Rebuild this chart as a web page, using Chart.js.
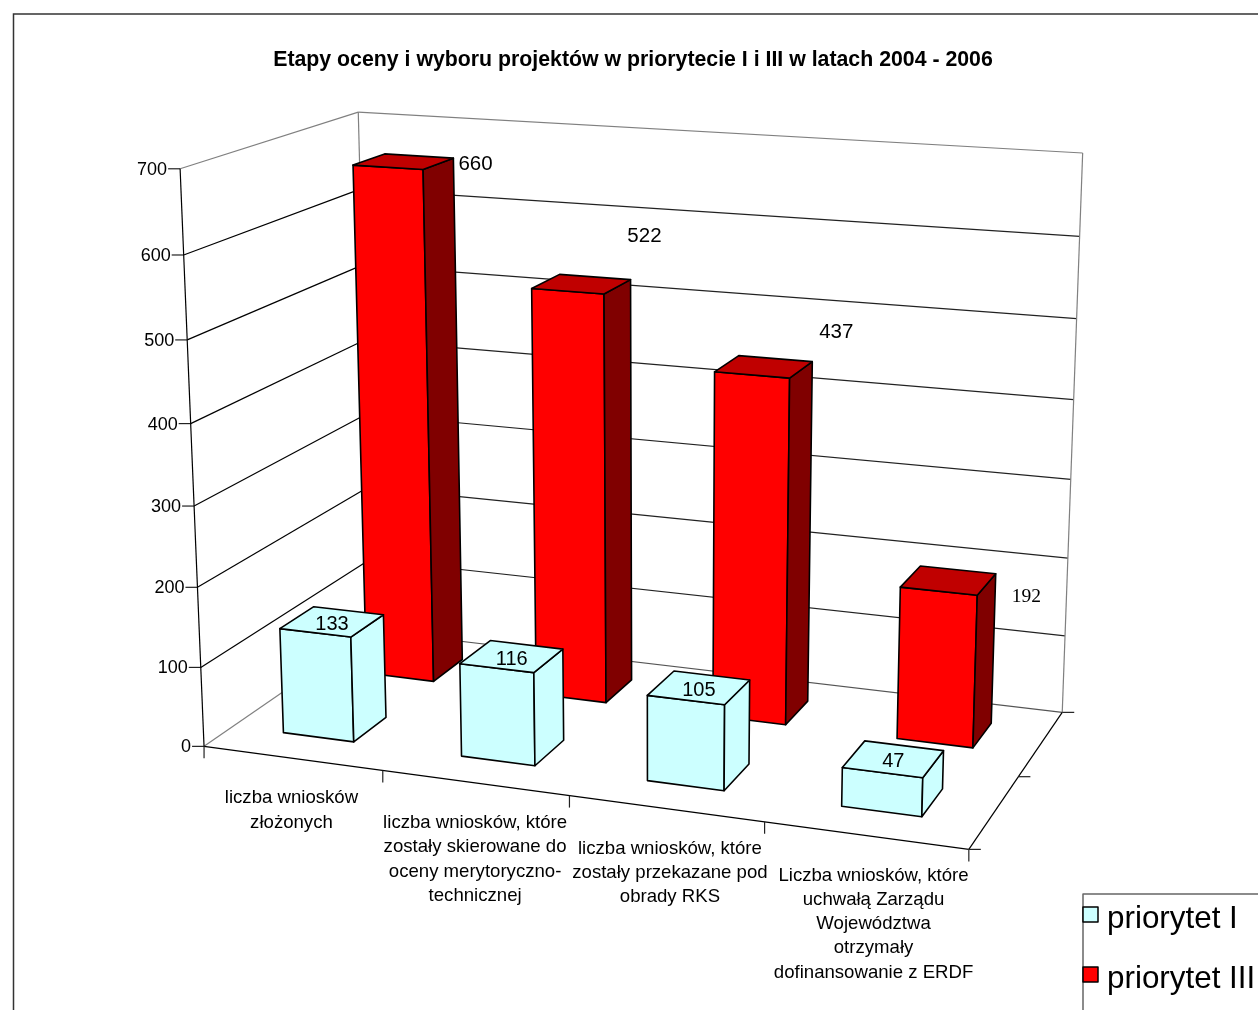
<!DOCTYPE html>
<html lang="pl">
<head>
<meta charset="utf-8">
<title>Etapy oceny i wyboru projektów</title>
<script src="https://cdn.jsdelivr.net/npm/chart.js@4/dist/chart.umd.min.js"></script>
<style>
    html, body { margin: 0; padding: 0; background: #fff; overflow: hidden; }
    canvas { display: block; }
</style>
</head>
<body>
<canvas id="chart" width="1258" height="1010"></canvas>
<script>
// dane
const chartTitle = 'Etapy oceny i wyboru projektów w priorytecie I i III w latach 2004 - 2006';
const categories = [
    ['liczba wniosków', 'złożonych'],
    ['liczba wniosków, które', 'zostały skierowane do', 'oceny merytoryczno-', 'technicznej'],
    ['liczba wniosków, które', 'zostały przekazane pod', 'obrady RKS'],
    ['Liczba wniosków, które', 'uchwałą Zarządu', 'Województwa', 'otrzymały', 'dofinansowanie z ERDF']
];
const seriesNames = ['priorytet I', 'priorytet III'];
const priorytetI = [133, 116, 105, 47];
const priorytetIII = [660, 522, 437, 192];

// style
const FONT = '"Liberation Sans", Arial, sans-serif';
const FRONT_COLORS = ['#CCFFFF', '#FF0000'];
const TOP_COLORS = ['#CCFFFF', '#C00000'];
const SIDE_COLORS = ['#CCFFFF', '#800000'];
const DEPTH_BANDS = [[0.16, 0.355], [0.66, 0.855]];   // zakres glebokosci serii
const BAR_SHIFT = -0.003;
const RED_LABEL_SHIFT = [[72, 3], [63, -48], [72.5, -34], [78, 16]];
const CATEGORY_LABEL_SHIFT = [-1, 0, 4, 8];

// kalibracja kamery: narozniki pudelka wykresu (x, wartosc, glebokosc) -> piksele
const CAMERA_POINTS = [
    [0, 0, 0, 203, 746], [1, 0, 0, 969, 849], [1, 0, 1, 1062, 712], [0, 0, 1, 373, 631],
    [0, 1, 0, 181, 169], [0, 1, 1, 357, 112], [1, 1, 1, 1083, 153],
    [0.25, 0, 0, 383, 771], [0.5, 0, 0, 569, 796], [0.75, 0, 0, 765, 822],
    [1, 0, 0.5, 1018, 777], [0, 6 / 7, 0, 184, 255], [0, 2 / 7, 0, 197, 587], [0, 1 / 7, 0, 201, 667]
];

function solveCamera(points) {
    const n = 11;
    const A = Array.from({ length: n }, () => new Array(n + 1).fill(0));
    const addRow = (row, rhs) => {
        for (let i = 0; i < n; i++) {
            for (let j = 0; j < n; j++) A[i][j] += row[i] * row[j];
            A[i][n] += row[i] * rhs;
        }
    };
    points.forEach(([X, Y, Z, u, v]) => {
        addRow([X, Y, Z, 1, 0, 0, 0, 0, -u * X, -u * Y, -u * Z], u);
        addRow([0, 0, 0, 0, X, Y, Z, 1, -v * X, -v * Y, -v * Z], v);
    });
    for (let c = 0; c < n; c++) {
        let pivot = c;
        for (let r = c + 1; r < n; r++) if (Math.abs(A[r][c]) > Math.abs(A[pivot][c])) pivot = r;
        [A[c], A[pivot]] = [A[pivot], A[c]];
        for (let r = 0; r < n; r++) {
            if (r === c) continue;
            const f = A[r][c] / A[c][c];
            for (let k = c; k <= n; k++) A[r][k] -= f * A[c][k];
        }
    }
    return A.map((row, i) => row[n] / row[i]);
}

const cam = solveCamera(CAMERA_POINTS);
function project(x, y, z) {
    const w = cam[8] * x + cam[9] * y + cam[10] * z + 1;
    return [
        (cam[0] * x + cam[1] * y + cam[2] * z + cam[3]) / w,
        (cam[4] * x + cam[5] * y + cam[6] * z + cam[7]) / w
    ];
}

function line(ctx, a, b, color, width) {
    ctx.strokeStyle = color;
    ctx.lineWidth = width || 1.2;
    ctx.beginPath();
    ctx.moveTo(a[0], a[1]);
    ctx.lineTo(b[0], b[1]);
    ctx.stroke();
}

function face(ctx, pts, fill) {
    ctx.fillStyle = fill;
    ctx.strokeStyle = '#000';
    ctx.lineWidth = 1.6;
    ctx.lineJoin = 'round';
    ctx.beginPath();
    pts.forEach((p, i) => (i ? ctx.lineTo(p[0], p[1]) : ctx.moveTo(p[0], p[1])));
    ctx.closePath();
    ctx.fill();
    ctx.stroke();
}

function text(ctx, str, x, y, font, align) {
    ctx.font = font;
    ctx.fillStyle = '#000';
    ctx.textAlign = align || 'center';
    ctx.textBaseline = 'middle';
    ctx.fillText(str, x, y);
}

// rysuje pudelko, slupki i opisy; pozycje slupkow biora sie ze skal Chart.js
const box3d = {
    id: 'box3d',
    beforeDatasetsDraw(chart) {
        const { ctx, scales: { x: xs, y: ys } } = chart;
        const ux = px => (px - xs.left) / (xs.right - xs.left);
        const uy = px => (ys.bottom - px) / (ys.bottom - ys.top);

        ctx.save();
        // ramka wykresu
        ctx.strokeStyle = '#333';
        ctx.lineWidth = 1.5;
        ctx.strokeRect(13.5, 14, 1400, 1200);

        // sciany
        const gray = '#808080';
        ys.ticks.forEach(t => {
            const v = uy(ys.getPixelForValue(t.value));
            const edge = project(0, v, 0);
            const color = t.value === 0 || t.value === ys.max ? gray : '#000';
            line(ctx, edge, project(0, v, 1), color);
            line(ctx, project(0, v, 1), project(1, v, 1), t.value === ys.max ? gray : t.value === 0 ? '#555' : '#222');
            line(ctx, [edge[0] - 12, edge[1]], edge, '#222');
            text(ctx, String(t.value), edge[0] - 13, edge[1] + 1, '18px ' + FONT, 'right');
        });
        line(ctx, project(0, 0, 1), project(0, 1, 1), gray);
        line(ctx, project(1, 0, 1), project(1, 1, 1), gray);
        line(ctx, project(0, 0, 0), project(0, 1, 0), '#000');

        // podloga i znaczniki
        line(ctx, project(0, 0, 0), project(1, 0, 0), '#000');
        line(ctx, project(1, 0, 0), project(1, 0, 1), '#000');
        for (let i = 0; i <= categories.length; i++) {
            const p = project(i / categories.length, 0, 0);
            line(ctx, p, [p[0], p[1] + 12], '#222');
        }
        [0, 0.5, 1].forEach(z => {
            const p = project(1, 0, z);
            line(ctx, p, [p[0] + 12, p[1]], '#222');
        });

        // slupki: najpierw tylna seria
        const labels = [];
        [1, 0].forEach(ds => {
            const [z0, z1] = DEPTH_BANDS[ds];
            chart.getDatasetMeta(ds).data.forEach((bar, i) => {
                const x0 = ux(bar.x - bar.width / 2) + BAR_SHIFT;
                const x1 = ux(bar.x + bar.width / 2) + BAR_SHIFT;
                const top = uy(bar.y);
                const base = uy(bar.base);
                face(ctx, [project(x0, base, z0), project(x1, base, z0), project(x1, top, z0), project(x0, top, z0)], FRONT_COLORS[ds]);
                face(ctx, [project(x1, base, z0), project(x1, base, z1), project(x1, top, z1), project(x1, top, z0)], SIDE_COLORS[ds]);
                face(ctx, [project(x0, top, z0), project(x1, top, z0), project(x1, top, z1), project(x0, top, z1)], TOP_COLORS[ds]);
                const c = project((x0 + x1) / 2, top, (z0 + z1) / 2);
                const value = chart.data.datasets[ds].data[i];
                if (ds === 0) {
                    labels.push([value, c[0], c[1] + 3, '20px ' + FONT]);
                } else {
                    const [dx, dy] = RED_LABEL_SHIFT[i];
                    labels.push([value, c[0] + dx, c[1] + dy, (i === 3 ? '19.5px "Liberation Serif", serif' : '20.5px ' + FONT)]);
                }
            });
        });
        labels.forEach(([v, x, y, font]) => text(ctx, String(v), x, y, font));

        // opisy kategorii
        categories.forEach((lines, i) => {
            const p = project((i + 0.5) / categories.length, 0, 0);
            lines.forEach((l, k) => {
                text(ctx, l, p[0] + CATEGORY_LABEL_SHIFT[i], p[1] + 40 + k * 24.3, '18.6px ' + FONT);
            });
        });

        // legenda
        ctx.strokeStyle = '#666';
        ctx.lineWidth = 1.5;
        ctx.strokeRect(1083, 894, 400, 400);
        chart.data.datasets.forEach((d, i) => {
            const y = 915 + i * 60;
            ctx.fillStyle = d.backgroundColor;
            ctx.strokeStyle = '#000';
            ctx.lineWidth = 1.5;
            ctx.fillRect(1083, y - 8, 15, 15);
            ctx.strokeRect(1083, y - 8, 15, 15);
            text(ctx, d.label, 1107, y + 4, '31.4px ' + FONT, 'left');
        });
        ctx.restore();
        return false;
    }
};

Chart.defaults.font.family = FONT;
Chart.defaults.color = '#000';

new Chart(document.getElementById('chart'), {
    type: 'bar',
    data: {
        labels: categories,
        datasets: [
            { label: seriesNames[0], data: priorytetI, backgroundColor: FRONT_COLORS[0], grouped: false, categoryPercentage: 1, barPercentage: 0.4 },
            { label: seriesNames[1], data: priorytetIII, backgroundColor: FRONT_COLORS[1], grouped: false, categoryPercentage: 1, barPercentage: 0.4 }
        ]
    },
    options: {
        responsive: false,
        animation: false,
        layout: { padding: { left: 8 } },
        scales: {
            x: { display: false },
            y: { display: false, min: 0, max: 700, ticks: { stepSize: 100 } }
        },
        plugins: {
            legend: { display: false },
            tooltip: { enabled: false },
            title: {
                display: true,
                text: chartTitle,
                font: { size: 21.3, weight: 'bold' },
                padding: { top: 47, bottom: 20 }
            }
        }
    },
    plugins: [box3d]
});
</script>
</body>
</html>
